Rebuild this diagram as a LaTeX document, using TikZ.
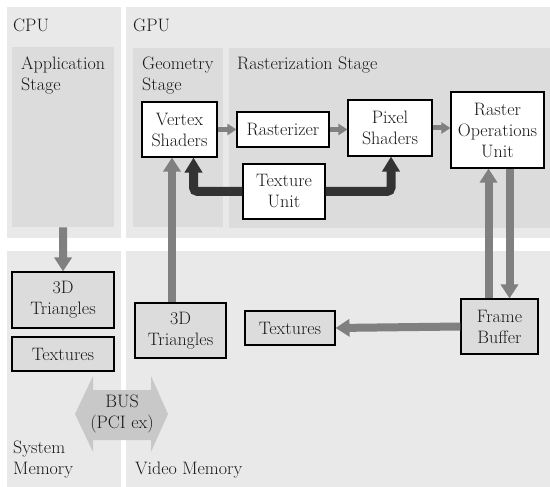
\documentclass[tikz,border=0pt]{standalone}
\usetikzlibrary{arrows.meta}
\definecolor{panelc}{HTML}{E9E9E9}
\definecolor{innerc}{HTML}{DCDCDC}
\definecolor{arrg}{HTML}{808080}
\definecolor{darkc}{HTML}{333333}
\definecolor{busc}{HTML}{C8C8C8}
\tikzset{
  panel/.style={fill=panelc},
  innerpanel/.style={fill=innerc},
  lbl/.style={anchor=north west, inner sep=0pt, align=left, text=black!90},
  wbox/.style={draw=black, line width=1.1pt, fill=white, align=center, inner sep=0pt, text=black!90},
  gbox/.style={wbox, fill=innerc},
  garrow/.style={draw=arrg, line width=8pt, -{Triangle[width=17pt,length=14pt]}},
  sarrow/.style={draw=arrg, line width=5pt, -{Triangle[width=11pt,length=9pt]}},
  darrow/.style={draw=darkc, line width=9pt, rounded corners=4pt, -{Triangle[width=17pt,length=15pt]}},
}
\begin{document}
\begin{tikzpicture}[x=1pt,y=-1pt, font=\fontsize{18}{21}\selectfont]
\useasboundingbox[fill=white] (0,0) rectangle (550,487);
% panels
\fill[panel] (7,7) rectangle (121,238);
\fill[panel] (126,7) rectangle (550,238);
\fill[panel] (7,251) rectangle (121,487);
\fill[panel] (126,251) rectangle (550,487);
\node[innerpanel, minimum width=102pt, minimum height=180pt, inner sep=0pt, anchor=north west] (app) at (12,47) {};
\fill[innerpanel] (133,48) rectangle (223,227);
\fill[innerpanel] (229,48) rectangle (550,228);
% labels
\node[lbl] (cpul) at (13,19) {CPU};
\node[lbl] (gpul) at (133,19) {GPU};
\node[lbl] (appl) at (21,57) {Application\\Stage};
\node[lbl] (geol) at (142,57) {Geometry\\Stage};
\node[lbl] (rasl) at (237,57) {Rasterization Stage};
\node[lbl] (sysl) at (13,441) {System\\Memory};
\node[lbl] (vidl) at (135,462) {Video Memory};
% boxes
\node[wbox, minimum width=75pt, minimum height=55pt] (vs) at (179.5,129.5) {Vertex\\Shaders};
\node[wbox, minimum width=92pt, minimum height=35pt] (rast) at (283,129.5) {Rasterizer};
\node[wbox, minimum width=84pt, minimum height=56pt] (ps) at (390,128) {Pixel\\Shaders};
\node[wbox, minimum width=93pt, minimum height=76pt] (rop) at (497.5,130) {Raster\\Operations\\Unit};
\node[wbox, minimum width=82pt, minimum height=55pt] (tu) at (284,191.5) {Texture\\Unit};
\node[gbox, minimum width=102pt, minimum height=56pt] (tri1) at (63,300) {3D\\Triangles};
\node[gbox, minimum width=102pt, minimum height=34pt] (tex1) at (63,354) {Textures};
\node[gbox, minimum width=91pt, minimum height=55pt] (tri2) at (180.5,330.5) {3D\\Triangles};
\node[gbox, minimum width=90pt, minimum height=34pt] (tex2) at (290,328) {Textures};
\node[gbox, minimum width=77pt, minimum height=55pt] (fb) at (499.5,326.5) {Frame\\Buffer};
% bus
\fill[busc] (75,414) -- (93,376) -- (93,390) -- (151,390) -- (151,376) -- (168,414)
  -- (151,452) -- (151,440) -- (93,440) -- (93,452) -- cycle;
\node[align=center, inner sep=0pt, text=black!90] (bus) at (122,414) {BUS\\(PCI ex)};
% arrows
\draw[sarrow] (vs.east) -- (rast.west);
\draw[sarrow] (rast.east) -- (rast.east -| ps.west);
\draw[sarrow] (ps.east) -- (ps.east -| rop.west);
\draw[darrow] (tu.west) -| ([xshift=14pt]vs.south);
\draw[darrow] (tu.east) -| ([xshift=1pt]ps.south);
\draw[garrow] (app.south) -- (tri1.north);
\draw[garrow] ([xshift=-8.5pt]tri2.north) -- ([xshift=-8.5pt]tri2.north |- vs.south);
\draw[garrow] ([xshift=-11pt]fb.north) -- ([xshift=-11pt]fb.north |- rop.south);
\draw[garrow] ([xshift=10pt]fb.north |- rop.south) -- ([xshift=10pt]fb.north);
\draw[garrow] (fb.west) -- (tex2.east);
\end{tikzpicture}
\end{document}
